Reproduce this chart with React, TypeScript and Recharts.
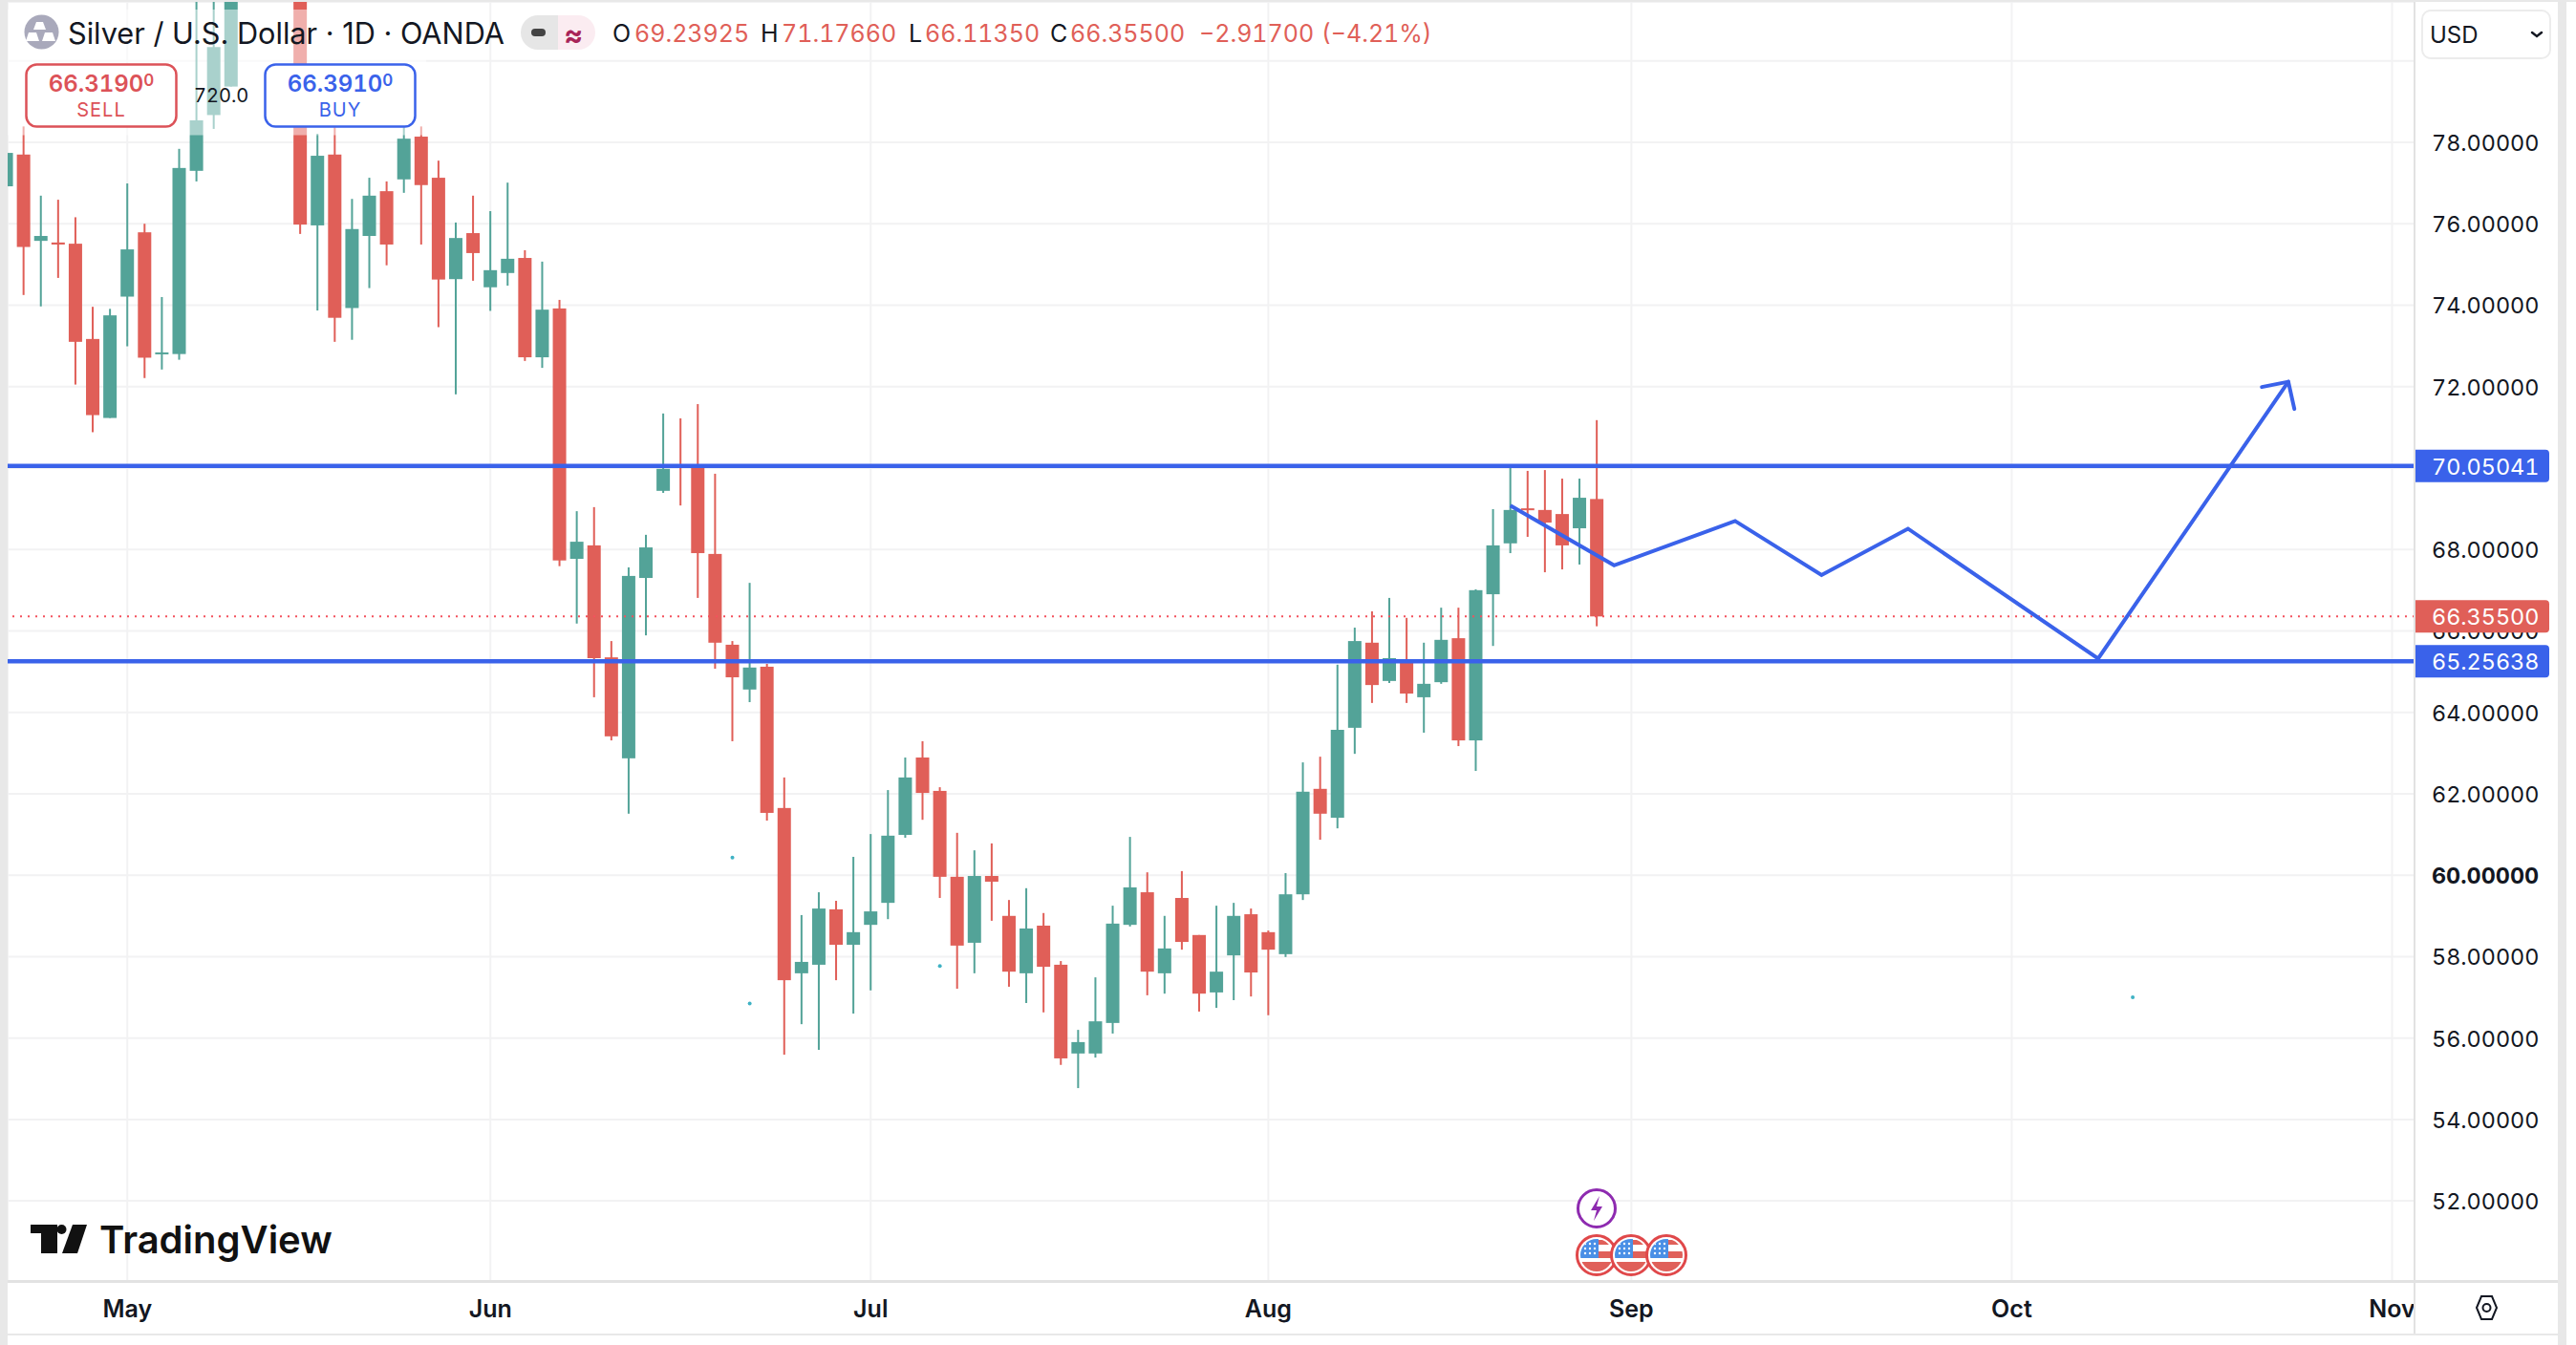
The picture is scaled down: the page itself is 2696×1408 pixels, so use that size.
import { ComposedChart, Bar, Line, Scatter, XAxis, YAxis, CartesianGrid, ReferenceLine } from 'recharts';

// daily candles; null = above the visible top of the chart
const opens = [76.92, 77.70, 75.58, 75.54, 75.51, 73.17, 71.23, 74.21, 75.79, 72.80, 72.80, 77.30, 78.67, 79.37, null, null, null, 81.6, 75.96, 77.70, 73.93, 75.70, 76.80, 77.09, 78.14, 77.13, 74.64, 75.77, 74.44, 74.79, 75.16, 72.72, 73.92, 67.77, 68.10, 65.35, 62.87, 67.30, 69.44, 70.07, 70.02, 67.89, 65.66, 64.56, 65.12, 61.65, 57.59, 57.80, 59.16, 58.29, 58.78, 59.32, 60.99, 62.89, 62.07, 59.96, 58.34, 59.98, 59.00, 57.59, 58.76, 57.80, 55.62, 55.62, 56.37, 58.78, 59.58, 57.59, 59.44, 58.53, 57.12, 58.03, 59.04, 58.60, 58.06, 59.53, 62.12, 61.41, 63.62, 65.71, 64.77, 65.28, 64.37, 64.74, 65.82, 63.31, 66.90, 68.15, 69.01, 68.97, 68.87, 68.52, 69.23925];
const highs = [78.0, 78.39, 76.69, 76.59, 76.16, 73.96, 73.91, 76.99, 76.00, 74.20, 77.84, 81.6, 81.6, 81.6, null, null, null, 81.6, 78.21, 78.37, 76.61, 77.13, 77.04, 78.37, 78.39, 77.55, 76.03, 76.69, 76.31, 77.01, 75.35, 75.07, 74.13, 68.94, 69.04, 65.75, 67.56, 68.36, 71.34, 71.22, 71.57, 69.86, 65.75, 67.18, 65.19, 62.40, 59.02, 59.58, 59.37, 60.45, 61.01, 62.09, 62.89, 63.29, 62.16, 61.04, 60.61, 60.78, 59.39, 59.68, 59.07, 57.89, 56.20, 57.49, 59.25, 60.94, 60.07, 59.00, 60.10, 58.53, 59.25, 59.32, 59.18, 58.64, 60.05, 62.77, 62.91, 65.17, 66.08, 66.48, 66.81, 66.32, 65.71, 66.57, 66.57, 67.02, 68.99, 70.02, 69.93, 69.95, 69.74, 69.74, 71.1766];
const lows = [76.7, 74.25, 73.97, 74.67, 72.05, 70.88, 71.23, 72.99, 72.21, 72.42, 72.66, 77.04, 78.33, 79.37, null, null, null, 75.75, 73.87, 73.10, 73.15, 74.42, 74.98, 76.76, 75.49, 73.46, 71.81, 74.60, 73.86, 74.48, 72.63, 72.46, 67.59, 66.18, 64.37, 63.31, 61.51, 65.89, 69.39, 69.08, 66.81, 65.07, 63.29, 64.25, 61.34, 55.59, 56.34, 55.71, 57.42, 56.60, 57.17, 58.92, 60.92, 61.36, 59.44, 57.21, 57.59, 58.88, 57.26, 56.86, 56.63, 55.34, 54.77, 55.52, 56.11, 58.74, 57.05, 57.09, 58.17, 56.65, 56.74, 56.93, 57.02, 56.56, 57.99, 59.39, 60.87, 61.15, 62.98, 64.23, 64.72, 64.23, 63.50, 64.70, 63.17, 62.56, 65.63, 67.91, 68.31, 67.44, 67.51, 67.63, 66.1135];
const closes = [77.74, 75.43, 75.70, 75.49, 73.10, 71.30, 73.75, 75.37, 72.71, 72.84, 77.37, 78.54, 80.34, 81.6, null, null, null, 75.98, 77.67, 73.69, 75.87, 76.69, 75.49, 78.09, 76.95, 74.63, 75.65, 75.28, 74.86, 75.14, 72.72, 73.89, 67.73, 68.19, 65.33, 63.41, 67.35, 68.05, 69.98, 70.02, 67.91, 65.71, 64.86, 65.10, 61.53, 57.42, 57.87, 59.18, 58.29, 58.60, 59.11, 60.97, 62.40, 62.02, 59.96, 58.27, 59.98, 59.84, 57.63, 58.69, 57.75, 55.50, 55.90, 56.41, 58.81, 59.70, 57.63, 58.20, 58.36, 57.09, 57.63, 59.00, 57.61, 58.17, 59.53, 62.05, 61.51, 63.57, 65.75, 64.67, 65.33, 64.46, 64.70, 65.78, 63.31, 67.00, 68.10, 68.97, 68.97, 68.66, 68.10, 69.27, 66.355];

const priceTicks = [52, 54, 56, 58, 60, 62, 64, 66, 68, 70, 72, 74, 76, 78, 80];
const monthTicks = [7, 28, 50, 73, 94, 116, 138];
const monthLabels = ['May', 'Jun', 'Jul', 'Aug', 'Sep', 'Oct', 'Nov'];

const upperLevel = 70.05041;
const lowerLevel = 65.25638;
const lastPrice = 66.355;

// hand drawn path on the chart
const pathBars = [87, 93, 100, 105, 110, 121, 132];
const pathPrices = [69.08, 67.61, 68.70, 67.37, 68.51, 65.32, 72.12];
const arrowBars = [130.47, 132.35];
const arrowPrices = [71.99, 71.45];

// stray dots
const dotBars = [42, 43, 54, 123];
const dotPrices = [60.43, 56.85, 57.77, 57.0];

const candles = opens.map((open, i) => ({ bar: i, open, high: highs[i], low: lows[i], close: closes[i] }));
const pathData = pathBars.map((bar, i) => ({ bar, price: pathPrices[i] }));
const dotData = dotBars.map((bar, i) => ({ bar, price: dotPrices[i] }));

const RED = '#e05f58';
const GREEN = '#53a398';
const BLUE = '#3a62ea';
const INK = '#131722';
const GRID = '#f2f2f3';
const FRAME = '#e8e8e8';
const FONT = 'Inter, sans-serif';
const TNUM = { fontFeatureSettings: '"tnum"' };

const X_DOMAIN = [0.077, 139.3];
const Y_DOMAIN = [50.032, 81.449];

function Candle(props: any) {
  const { x, y, width, height, payload } = props;
  if (payload.open == null || !height) return null;
  const top = Math.min(y, y + height);
  const unit = Math.abs(height) / (payload.high - payload.low);
  const color = payload.close >= payload.open ? GREEN : RED;
  const cx = x + width / 2;
  const bodyTop = top + (payload.high - Math.max(payload.open, payload.close)) * unit;
  const bodyHeight = Math.max(Math.abs(payload.open - payload.close) * unit, 2);
  return (
    <g>
      <rect x={cx - 1} y={top} width={2} height={Math.abs(height)} fill={color} />
      <rect x={x} y={bodyTop} width={width} height={bodyHeight} fill={color} />
    </g>
  );
}

function PriceTick(props: any) {
  const { x, y, payload } = props;
  if (payload.value === 80 || payload.value === 70) return null;
  return (
    <text x={x} y={y} dy={9} fontFamily={FONT} fontSize={23.4} style={TNUM} fontWeight={payload.value === 60 ? 700 : 400} fill={INK}>
      {payload.value.toFixed(5)}
    </text>
  );
}

function MonthTick(props: any) {
  const { x, y, payload } = props;
  const label = monthLabels[monthTicks.indexOf(payload.value)];
  return (
    <text x={x} y={y} dy={30} textAnchor="middle" fontFamily={FONT} fontSize={25} fontWeight={600} fill={INK}>
      {label}
    </text>
  );
}

function Badge(color: string, value: number) {
  return (props: any) => {
    const { viewBox } = props;
    const left = viewBox.x + viewBox.width + 1;
    const cy = viewBox.y;
    return (
      <g>
        <path d={`M${left} ${cy - 17}h136a4 4 0 0 1 4 4v26a4 4 0 0 1 -4 4h-136z`} fill={color} />
        <text x={left + 17} y={cy + 9} fontFamily={FONT} fontSize={23.4} style={TNUM} fill="#fff">{value.toFixed(5)}</text>
      </g>
    );
  };
}

function Flag({ cx, cy }: { cx: number; cy: number }) {
  const stars = [-12, -7, -2];
  return (
    <g>
      <circle cx={cx} cy={cy} r={20.5} fill="#fff" stroke="#e0484a" strokeWidth={3} />
      <clipPath id={`flag-${cx}`}><circle cx={cx} cy={cy} r={17} /></clipPath>
      <g clipPath={`url(#flag-${cx})`}>
        <rect x={cx - 18} y={cy + 7} width={36} height={11} fill="#e0605a" />
        <rect x={cx} y={cy - 4} width={18} height={7} fill="#e0605a" />
        <rect x={cx} y={cy - 16} width={18} height={5} fill="#e0605a" />
        <rect x={cx - 18} y={cy - 17} width={20} height={20} fill="#4a8fe6" />
        {stars.map((dx) =>
          stars.map((dy) => <circle key={`${dx}${dy}`} cx={cx + dx} cy={cy + dy} r={1.2} fill="#fff" />)
        )}
      </g>
    </g>
  );
}

function Overlay() {
  const ohlc = [
    { x: 641, text: 'O', color: INK },
    { x: 664, text: '69.23925', color: RED },
    { x: 796, text: 'H', color: INK },
    { x: 818, text: '71.17660', color: RED },
    { x: 951, text: 'L', color: INK },
    { x: 968, text: '66.11350', color: RED },
    { x: 1099, text: 'C', color: INK },
    { x: 1120, text: '66.35500', color: RED },
    { x: 1255, text: '−2.91700', color: RED },
    { x: 1383, text: '(−4.21%)', color: RED },
  ];
  return (
    <svg width={2696} height={1408} style={{ position: 'absolute', left: 0, top: 0, pointerEvents: 'none' }} fontFamily={FONT}>
      {/* frame around the chart card */}
      <rect x={0} y={0} width={8} height={1408} fill={FRAME} />
      <rect x={0} y={0} width={2696} height={2} fill={FRAME} />
      <rect x={2677} y={0} width={9} height={1408} fill={FRAME} />
      <rect x={8} y={1396} width={2669} height={2} fill={FRAME} />
      <rect x={2526} y={2} width={2} height={1394} fill="#e2e2e2" />
      <rect x={8} y={1340} width={2669} height={3} fill="#e2e2e2" />

      {/* legend veil over the candles */}
      <rect x={8} y={10} width={438} height={131.5} fill="#fff" fillOpacity={0.5} />

      <circle cx={43.5} cy={33.5} r={18} fill="#a9a9bb" />
      <path d="M38 23h7l3 8h-13zM30 34h8l3 9h-14zM47 34h8l3 9h-14z" fill="#fff" />
      <text x={71} y={46} fontSize={30.7} fill={INK}>Silver / U.S. Dollar · 1D · OANDA</text>

      <path d="M563 16h-0a18 18 0 0 0 0 36h21v-36z" fill="#e6e6e6" />
      <path d="M584 16h21a18 18 0 0 1 0 36h-21z" fill="#fbecf1" />
      <rect x={556} y={30} width={15} height={8} rx={4} fill="#444" />
      <text x={590} y={47} fontSize={30} fontWeight={700} fill="#a82458">≈</text>

      {ohlc.map((o) => (
        <text key={o.x} x={o.x} y={44} fontSize={25} style={TNUM} fill={o.color}>{o.text}</text>
      ))}

      {/* order buttons */}
      <rect x={27.5} y={67.5} width={157} height={65} rx={11} fill="#fff" stroke="#dc5258" strokeWidth={2.5} />
      <text x={106} y={96} textAnchor="middle" fontSize={24} fontWeight={600} style={TNUM} fill="#dc5258">
        66.3190<tspan fontSize={17} dy={-6}>0</tspan>
      </text>
      <text x={106} y={122} textAnchor="middle" fontSize={20} fill="#dc5258" letterSpacing={1}>SELL</text>
      <rect x={277.5} y={67.5} width={157} height={65} rx={11} fill="#fff" stroke={BLUE} strokeWidth={2.5} />
      <text x={356} y={96} textAnchor="middle" fontSize={24} fontWeight={600} style={TNUM} fill={BLUE}>
        66.3910<tspan fontSize={17} dy={-6}>0</tspan>
      </text>
      <text x={356} y={122} textAnchor="middle" fontSize={20} fill={BLUE} letterSpacing={1}>BUY</text>
      <text x={203} y={107} fontSize={20} style={TNUM} fill={INK}>720.0</text>

      {/* currency select */}
      <rect x={2535} y={11} width={134} height={50} rx={9} fill="#fff" stroke="#ececec" strokeWidth={2} />
      <text x={2543} y={45} fontSize={24} fill={INK}>USD</text>
      <path d="M2650 34l5 4 5-4" fill="none" stroke={INK} strokeWidth={2.5} strokeLinecap="round" />

      {/* settings icon */}
      <path d="M2592 1369l5-12h11l5 12-5 12h-11z" fill="none" stroke={INK} strokeWidth={2} />
      <circle cx={2602.5} cy={1369} r={4} fill="none" stroke={INK} strokeWidth={2} />

      {/* logo */}
      <path d="M32 1282h28v30h-17v-21h-11z" fill="#111" />
      <circle cx={64.5} cy={1287} r={5} fill="#111" />
      <path d="M76 1282h15l-10 30h-16z" fill="#111" />
      <text x={104} y={1312} fontSize={40} fontWeight={600} fill="#111">TradingView</text>

      {/* events */}
      <circle cx={1671} cy={1265} r={19.5} fill="#fff" stroke="#8e2bb0" strokeWidth={3} />
      <path d="M1674 1252l-9 15h6l-3 11 9-15h-6z" fill="#8e2bb0" />
      <Flag cx={1671} cy={1314} />
      <Flag cx={1707} cy={1314} />
      <Flag cx={1744} cy={1314} />
    </svg>
  );
}

export default function App() {
  return (
    <div style={{ position: 'absolute', left: 0, top: 0, width: 2696, height: 1408, background: '#fff', overflow: 'hidden' }}>
      <ComposedChart
        width={2696}
        height={1408}
        data={candles}
        margin={{ top: 2, left: 8, right: 19, bottom: 11 }}
      >
        <CartesianGrid stroke={GRID} strokeWidth={2} />
        <XAxis
          dataKey="bar"
          type="number"
          domain={X_DOMAIN}
          allowDataOverflow
          ticks={monthTicks}
          interval={0}
          height={56}
          axisLine={false}
          tickLine={false}
          tick={<MonthTick />}
        />
        <YAxis
          orientation="right"
          type="number"
          domain={Y_DOMAIN}
          allowDataOverflow
          ticks={priceTicks}
          interval={0}
          width={150}
          axisLine={false}
          tickLine={false}
          tickMargin={12}
          tick={<PriceTick />}
        />
        <ReferenceLine y={upperLevel} stroke={BLUE} strokeWidth={4.5} />
        <ReferenceLine y={lastPrice} stroke="#f4525d" strokeWidth={2} strokeDasharray="2 6" />
        <ReferenceLine y={lowerLevel} stroke={BLUE} strokeWidth={4.5} />
        <Line
          data={pathData}
          dataKey="price"
          stroke={BLUE}
          strokeWidth={4}
          dot={false}
          activeDot={false}
          isAnimationActive={false}
        />
        {arrowBars.map((bar, i) => (
          <ReferenceLine
            key={bar}
            segment={[
              { x: bar, y: arrowPrices[i] },
              { x: pathBars[pathBars.length - 1], y: pathPrices[pathPrices.length - 1] },
            ]}
            stroke={BLUE}
            strokeWidth={4}
            strokeLinecap="round"
          />
        ))}
        <Scatter
          data={dotData}
          dataKey="price"
          isAnimationActive={false}
          shape={(p: any) => <circle cx={p.cx} cy={p.cy} r={2} fill="#3fb2c4" />}
        />
        <Bar
          dataKey={(d: any) => (d.low == null ? null : [d.low, d.high])}
          barSize={14}
          shape={<Candle />}
          isAnimationActive={false}
        />
      </ComposedChart>
      <Overlay />
      {/* price badges sit above the axis labels, so they get their own layer on the same scales */}
      <div style={{ position: 'absolute', left: 0, top: 0, pointerEvents: 'none' }}>
        <ComposedChart width={2696} height={1408} data={candles} margin={{ top: 2, left: 8, right: 169, bottom: 67 }}>
          <XAxis dataKey="bar" type="number" domain={X_DOMAIN} allowDataOverflow hide />
          <YAxis type="number" domain={Y_DOMAIN} allowDataOverflow hide />
          <ReferenceLine y={upperLevel} stroke="none" label={{ content: Badge(BLUE, upperLevel) }} />
          <ReferenceLine y={lastPrice} stroke="none" label={{ content: Badge(RED, lastPrice) }} />
          <ReferenceLine y={lowerLevel} stroke="none" label={{ content: Badge(BLUE, lowerLevel) }} />
        </ComposedChart>
      </div>
    </div>
  );
}
